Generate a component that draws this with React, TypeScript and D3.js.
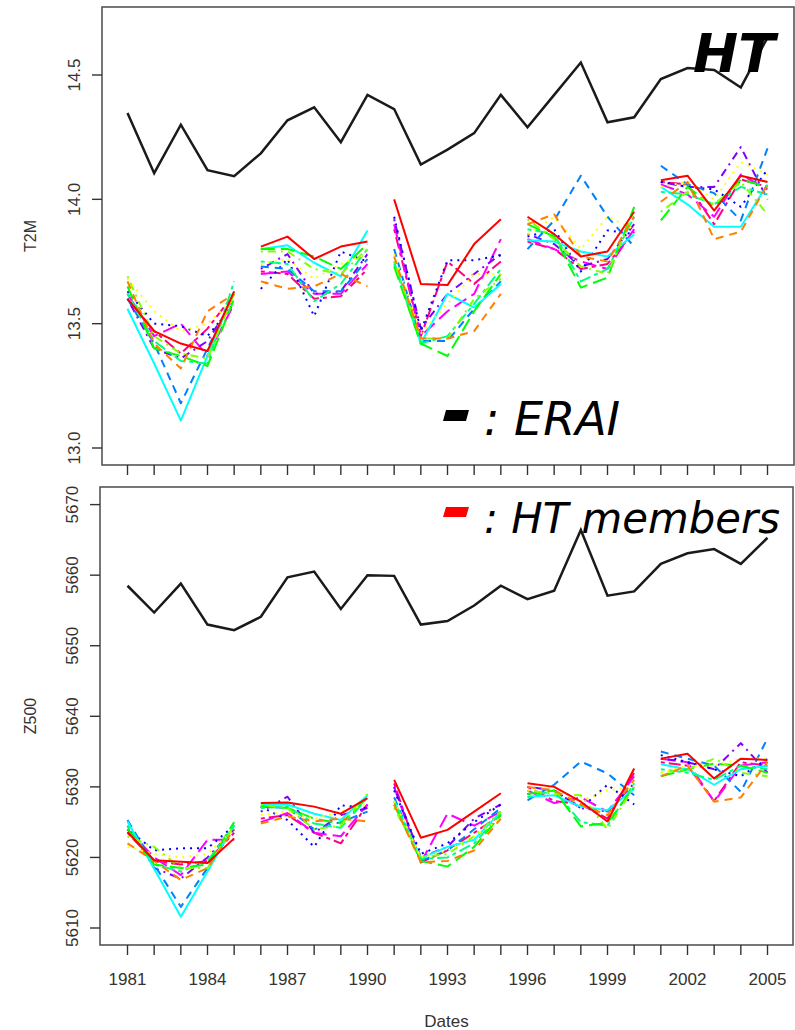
import React from "react";
import * as d3 from "d3";

// ---------- data ----------
const years = [1981, 1982, 1983, 1984, 1985, 1986, 1987, 1988, 1989, 1990, 1991, 1992, 1993, 1994, 1995, 1996, 1997, 1998, 1999, 2000, 2001, 2002, 2003, 2004, 2005];
const segmentLength = 5;
const xLabelYears = [1981, 1984, 1987, 1990, 1993, 1996, 1999, 2002, 2005];
const t2mTicks = [13.0, 13.5, 14.0, 14.5];
const z500Ticks = [5610, 5620, 5630, 5640, 5650, 5660, 5670];

const t2mERAI = [14.347, 14.105, 14.30, 14.117, 14.093, 14.185, 14.318, 14.37, 14.23, 14.42, 14.363, 14.14, 14.2, 14.266, 14.42, 14.29, 14.42, 14.55, 14.31, 14.33, 14.484, 14.528, 14.52, 14.45, 14.65];
const z500ERAI = [5658.5, 5654.7, 5658.8, 5653.0, 5652.2, 5654.1, 5659.7, 5660.5, 5655.2, 5660.0, 5659.9, 5653.0, 5653.5, 5655.7, 5658.5, 5656.6, 5657.8, 5666.4, 5657.1, 5657.7, 5661.6, 5663.1, 5663.7, 5661.6, 5665.3];

// HT members, T2M
const t2mM01 = [13.60, 13.47, 13.42, 13.39, 13.63, 13.81, 13.85, 13.76, 13.81, 13.83, 14.00, 13.66, 13.655, 13.82, 13.92, 13.93, 13.86, 13.77, 13.79, 13.95, 14.077, 14.095, 13.955, 14.095, 14.07];
const t2mM02 = [13.67, 13.42, 13.32, 13.55, 13.62, 13.67, 13.64, 13.65, 13.70, 13.65, 13.77, 13.44, 13.44, 13.47, 13.62, 13.90, 13.94, 13.77, 13.75, 13.93, 13.99, 14.07, 13.84, 13.87, 14.06];
const t2mM03 = [13.68, 13.55, 13.47, 13.50, 13.60, 13.74, 13.76, 13.68, 13.74, 13.78, 13.78, 13.46, 13.58, 13.70, 13.70, 13.86, 13.93, 13.80, 13.93, 13.88, 14.05, 14.07, 14.00, 14.15, 14.10];
const t2mM04 = [13.69, 13.45, 13.38, 13.36, 13.62, 13.79, 13.79, 13.72, 13.70, 13.80, 13.75, 13.44, 13.44, 13.60, 13.68, 13.92, 13.84, 13.73, 13.70, 13.95, 13.95, 14.03, 13.98, 14.07, 13.94];
const t2mM05 = [13.65, 13.40, 13.37, 13.33, 13.60, 13.80, 13.80, 13.77, 13.72, 13.82, 13.73, 13.42, 13.37, 13.55, 13.70, 13.90, 13.85, 13.645, 13.685, 13.97, 13.915, 14.05, 13.97, 14.08, 14.05];
const t2mM06 = [13.62, 13.43, 13.35, 13.34, 13.67, 13.75, 13.74, 13.59, 13.66, 13.80, 13.74, 13.42, 13.45, 13.58, 13.72, 13.88, 13.86, 13.67, 13.72, 13.93, 14.03, 14.02, 13.98, 14.05, 14.02];
const t2mM07 = [13.56, 13.34, 13.11, 13.37, 13.63, 13.80, 13.815, 13.745, 13.69, 13.875, 13.75, 13.42, 13.62, 13.565, 13.66, 13.835, 13.83, 13.79, 13.77, 13.86, 14.05, 13.98, 13.89, 13.89, 14.06];
const t2mM08 = [13.60, 13.42, 13.18, 13.40, 13.62, 13.73, 13.72, 13.63, 13.63, 13.76, 13.80, 13.43, 13.43, 13.56, 13.67, 13.80, 13.915, 14.095, 13.93, 13.81, 14.135, 14.06, 14.025, 13.915, 14.205];
const t2mM09 = [13.63, 13.50, 13.49, 13.45, 13.58, 13.64, 13.76, 13.53, 13.79, 13.75, 13.93, 13.47, 13.755, 13.755, 13.775, 13.85, 13.88, 13.71, 13.875, 13.86, 14.07, 14.05, 14.04, 13.97, 14.12];
const t2mM10 = [13.60, 13.40, 13.36, 13.43, 13.60, 13.72, 13.78, 13.62, 13.63, 13.78, 13.92, 13.48, 13.62, 13.70, 13.78, 13.86, 13.82, 13.73, 13.76, 13.90, 14.07, 14.05, 14.05, 14.21, 14.00];
const t2mM11 = [13.62, 13.45, 13.50, 13.37, 13.58, 13.70, 13.71, 13.62, 13.62, 13.74, 13.90, 13.45, 13.55, 13.62, 13.84, 13.84, 13.80, 13.75, 13.72, 13.88, 14.06, 14.02, 13.93, 14.10, 14.04];
const t2mM12 = [13.60, 13.47, 13.38, 13.48, 13.62, 13.71, 13.70, 13.60, 13.61, 13.72, 13.88, 13.45, 13.75, 13.66, 13.75, 13.83, 13.80, 13.72, 13.74, 13.87, 14.07, 14.06, 13.90, 14.08, 14.05];

// HT members, Z500
const z500M01 = [5623.6, 5619.6, 5619.4, 5619.2, 5622.7, 5627.7, 5627.8, 5627.2, 5626.2, 5628.4, 5631.0, 5622.8, 5623.9, 5626.5, 5629.1, 5630.5, 5630.0, 5627.9, 5625.1, 5632.6, 5634.0, 5634.7, 5631.2, 5634.0, 5633.8];
const z500M02 = [5622.0, 5619.5, 5616.8, 5618.5, 5624.0, 5624.8, 5625.8, 5625.1, 5625.5, 5625.1, 5627.5, 5619.3, 5619.5, 5621.0, 5625.5, 5630.0, 5629.5, 5627.5, 5626.0, 5631.0, 5631.5, 5633.0, 5627.9, 5628.5, 5633.5];
const z500M03 = [5621.5, 5620.5, 5620.0, 5620.5, 5624.0, 5626.0, 5626.5, 5625.5, 5626.5, 5627.5, 5628.0, 5620.0, 5621.0, 5623.0, 5625.5, 5629.5, 5630.0, 5628.0, 5629.5, 5630.0, 5632.0, 5633.0, 5633.0, 5634.0, 5634.0];
const z500M04 = [5623.0, 5621.5, 5618.5, 5618.5, 5624.5, 5627.5, 5627.0, 5624.0, 5624.5, 5629.0, 5627.0, 5620.0, 5620.5, 5623.0, 5626.5, 5629.5, 5629.0, 5628.8, 5624.0, 5630.0, 5632.0, 5632.5, 5634.0, 5632.0, 5631.5];
const z500M05 = [5624.0, 5619.0, 5618.5, 5619.0, 5625.0, 5627.3, 5627.0, 5625.5, 5624.8, 5628.5, 5627.5, 5619.5, 5618.7, 5621.5, 5626.0, 5629.0, 5629.5, 5624.4, 5624.9, 5630.0, 5631.5, 5632.5, 5633.3, 5633.0, 5632.0];
const z500M06 = [5624.5, 5619.0, 5618.0, 5619.5, 5624.5, 5627.0, 5627.2, 5624.8, 5624.2, 5628.5, 5628.0, 5619.8, 5620.0, 5622.0, 5626.2, 5628.5, 5629.5, 5625.0, 5624.5, 5630.5, 5632.5, 5632.0, 5631.0, 5633.0, 5632.5];
const z500M07 = [5625.1, 5618.4, 5611.6, 5618.0, 5624.6, 5627.5, 5627.5, 5626.2, 5625.3, 5628.8, 5628.0, 5619.9, 5621.5, 5622.5, 5626.5, 5628.6, 5628.8, 5627.2, 5626.7, 5629.7, 5633.2, 5632.5, 5630.3, 5632.5, 5633.0];
const z500M08 = [5625.3, 5619.0, 5613.0, 5618.5, 5624.6, 5627.2, 5627.0, 5624.0, 5625.0, 5626.5, 5628.5, 5619.5, 5621.0, 5624.0, 5627.0, 5628.1, 5630.3, 5633.6, 5631.9, 5628.8, 5635.0, 5634.0, 5633.0, 5629.3, 5636.9];
const z500M09 = [5624.0, 5621.0, 5621.3, 5621.3, 5624.5, 5627.2, 5625.3, 5621.5, 5627.4, 5627.0, 5629.5, 5620.5, 5622.0, 5625.0, 5627.5, 5629.0, 5629.5, 5627.0, 5630.3, 5627.5, 5634.5, 5633.5, 5632.5, 5631.5, 5634.0];
const z500M10 = [5624.5, 5618.5, 5617.0, 5620.0, 5624.0, 5626.5, 5628.6, 5623.5, 5626.0, 5627.0, 5630.0, 5620.0, 5621.5, 5625.5, 5627.5, 5630.0, 5629.5, 5627.0, 5626.5, 5630.5, 5634.0, 5633.5, 5632.5, 5636.2, 5632.0];
const z500M11 = [5624.0, 5620.0, 5617.5, 5622.5, 5622.5, 5625.0, 5626.3, 5623.5, 5623.0, 5627.5, 5630.0, 5619.3, 5626.2, 5624.5, 5626.5, 5629.5, 5627.7, 5628.5, 5626.5, 5631.5, 5634.0, 5633.5, 5627.9, 5633.0, 5633.5];
const z500M12 = [5623.5, 5619.5, 5619.0, 5619.5, 5623.5, 5625.5, 5626.0, 5623.5, 5622.0, 5627.5, 5630.5, 5619.3, 5621.0, 5623.5, 5626.0, 5630.0, 5628.0, 5627.5, 5625.5, 5632.0, 5633.5, 5633.0, 5628.0, 5633.5, 5633.0];

const memberColors = ["#FF0000", "#FF8000", "#FFFF00", "#80FF00", "#00FF00", "#00FF80", "#00FFFF", "#0080FF", "#0000FF", "#8000FF", "#FF00FF", "#FF0080"];
const memberDash = ["", "8,6", "2,5", "2,5,8,5", "14,6", "4,4,12,4", "", "8,6", "2,5", "2,5,8,5", "14,6", "4,4,12,4"];

const t2mMembers = [t2mM01, t2mM02, t2mM03, t2mM04, t2mM05, t2mM06, t2mM07, t2mM08, t2mM09, t2mM10, t2mM11, t2mM12];
const z500Members = [z500M01, z500M02, z500M03, z500M04, z500M05, z500M06, z500M07, z500M08, z500M09, z500M10, z500M11, z500M12];

// ---------- layout ----------
const W = 795;
const H = 1030;
const FONT = "'Liberation Sans', Arial, sans-serif";

const x = d3.scaleLinear().domain([1981, 2005]).range([127.5, 767.5]);
const yTop = d3.scaleLinear().domain([13.0, 14.5]).range([448, 75]);
const yBot = d3.scaleLinear().domain([5610, 5670]).range([928, 504.6]);

const topBox = { x0: 102, x1: 794, y0: 7, y1: 465 };
const botBox = { x0: 100, x1: 793, y0: 487, y1: 945 };

function segments(values: number[]) {
  const out: [number, number][][] = [];
  for (let s = 0; s < values.length; s += segmentLength) {
    out.push(values.slice(s, s + segmentLength).map((v, i) => [years[s + i], v] as [number, number]));
  }
  return out;
}

function Panel({ y, erai, members, box, ticks, fmt, title, showLabels }: any) {
  const line = d3
    .line<[number, number]>()
    .x((d) => x(d[0]))
    .y((d) => y(d[1]));
  const order = members.map((_: any, i: number) => i).reverse();
  const eraiPts = years.map((yr, i) => [yr, erai[i]] as [number, number]);
  const cy = (box.y0 + box.y1) / 2;
  return (
    <g>
      {order.map((mi: number) =>
        segments(members[mi]).map((seg, si) => (
          <path
            key={`${mi}-${si}`}
            d={line(seg) || ""}
            fill="none"
            stroke={memberColors[mi]}
            strokeWidth={2}
            strokeDasharray={memberDash[mi] || undefined}
            strokeLinejoin="round"
          />
        ))
      )}
      <path d={line(eraiPts) || ""} fill="none" stroke="#1a1a1a" strokeWidth={2.5} strokeLinejoin="miter" />
      <rect x={box.x0} y={box.y0} width={box.x1 - box.x0} height={box.y1 - box.y0} fill="none" stroke="#555" strokeWidth={1.6} />
      {/* y axis */}
      {ticks.map((t: number) => (
        <g key={t}>
          <line x1={box.x0 - 10} x2={box.x0} y1={y(t)} y2={y(t)} stroke="#333" strokeWidth={1.4} />
          <text
            transform={`translate(${box.x0 - 22},${y(t)}) rotate(-90)`}
            textAnchor="middle"
            fontFamily={FONT}
            fontSize={17}
            fill="#333"
          >
            {fmt(t)}
          </text>
        </g>
      ))}
      <text transform={`translate(36,${cy}) rotate(-90)`} textAnchor="middle" fontFamily={FONT} fontSize={16} fill="#333">
        {title}
      </text>
      {/* x axis */}
      {years.map((yr) => (
        <line key={yr} x1={x(yr)} x2={x(yr)} y1={box.y1} y2={box.y1 + 10} stroke="#333" strokeWidth={1.4} />
      ))}
      {showLabels &&
        xLabelYears.map((yr) => (
          <text key={yr} x={x(yr)} y={box.y1 + 40} textAnchor="middle" fontFamily={FONT} fontSize={17} fill="#333">
            {yr}
          </text>
        ))}
    </g>
  );
}

export default function App() {
  const ANN = "'DejaVu Sans', Verdana, sans-serif";
  return (
    <svg width={W} height={H} style={{ position: "absolute", left: 0, top: 0, background: "#fff" }}>
      <rect x={0} y={0} width={W} height={H} fill="#fff" />
      <Panel y={yTop} erai={t2mERAI} members={t2mMembers} box={topBox} ticks={t2mTicks} fmt={d3.format(".1f")} title="T2M" showLabels={false} />
      <Panel y={yBot} erai={z500ERAI} members={z500Members} box={botBox} ticks={z500Ticks} fmt={d3.format("d")} title="Z500" showLabels={true} />
      <text x={446.5} y={1027} textAnchor="middle" fontFamily={FONT} fontSize={17} fill="#333">
        Dates
      </text>
      {/* annotations */}
      <text x={775} y={72} textAnchor="end" fontFamily={ANN} fontSize={54} fontWeight="bold" fontStyle="italic" fill="#000">
        HT
      </text>
      <path d="M446,410 L469,410 L466,421 L443,421 Z" fill="#000" />
      <text x={484} y={435} fontFamily={ANN} fontSize={46} fontStyle="italic" fill="#000">
        : ERAI
      </text>
      <path d="M446,507 L469,507 L466,517 L443,517 Z" fill="#FF0000" />
      <text x={484} y={533} fontFamily={ANN} fontSize={43} fontStyle="italic" fill="#000" textLength={296} lengthAdjust="spacingAndGlyphs">
        : HT members
      </text>
    </svg>
  );
}
